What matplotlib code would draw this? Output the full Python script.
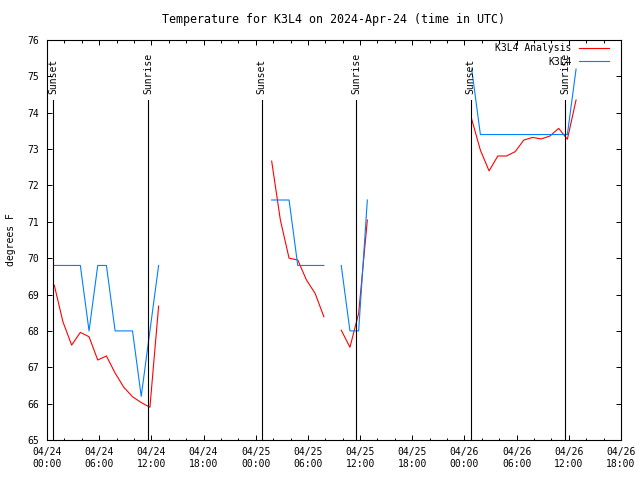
import matplotlib
matplotlib.use("Agg")
import matplotlib.pyplot as plt
import matplotlib.dates as mdates
import matplotlib.transforms as mtransforms
import pandas as pd

plt.rcParams['font.family'] = ['DejaVu Sans Mono']
plt.rcParams['font.size'] = 7

# hourly observations, split where data is missing
seg_starts = ['2024-04-24 00:50', '2024-04-25 01:50', '2024-04-25 09:50', '2024-04-26 00:50']

obs_segments = [
    [69.8, 69.8, 69.8, 69.8, 68.0, 69.8, 69.8, 68.0, 68.0, 68.0, 66.2, 68.0, 69.8],
    [71.6, 71.6, 71.6, 69.8, 69.8, 69.8, 69.8],
    [69.8, 68.0, 68.0, 71.6],
    [75.2, 73.4, 73.4, 73.4, 73.4, 73.4, 73.4, 73.4, 73.4, 73.4, 73.4, 73.4, 75.2],
]

analysis_segments = [
    [69.26, 68.25, 67.61, 67.96, 67.84, 67.2, 67.31, 66.84, 66.45, 66.19, 66.03, 65.9, 68.68],
    [72.67, 71.05, 70.0, 69.95, 69.4, 69.03, 68.39],
    [68.02, 67.55, 68.48, 71.05],
    [73.82, 72.97, 72.4, 72.81, 72.81, 72.93, 73.25, 73.32, 73.28, 73.36, 73.57, 73.27, 74.35],
]

sunset_times = ['2024-04-24 00:41', '2024-04-25 00:40', '2024-04-26 00:42']
sunrise_times = ['2024-04-24 11:37', '2024-04-25 11:34', '2024-04-26 11:37']

x_start = pd.Timestamp('2024-04-24 00:00')
x_end = pd.Timestamp('2024-04-26 18:00')

fig = plt.figure(figsize=(6.4, 4.8), dpi=100)
ax = fig.add_axes([47 / 640, 40 / 480, 574 / 640, 400 / 480])

for i, start in enumerate(seg_starts):
    times = pd.date_range(start, periods=len(obs_segments[i]), freq='h')
    ax.plot(times, analysis_segments[i], color='#ff0000', lw=0.8,
            label='K3L4 Analysis' if i == 0 else None)
    ax.plot(times, obs_segments[i], color='#0080ff', lw=0.8,
            label='K3L4' if i == 0 else None)

trans = mtransforms.blended_transform_factory(ax.transData, ax.transAxes)
for label, tlist in [('Sunset', sunset_times), ('Sunrise', sunrise_times)]:
    for t in tlist:
        t = pd.Timestamp(t)
        ax.axvline(t, ymin=0, ymax=0.85, color='black', lw=0.8)
        ax.text(t, 0.866, label, rotation=90, ha='center', va='bottom', transform=trans)

ax.set_xlim(x_start, x_end)
ax.set_ylim(65, 76)
ax.set_yticks(range(65, 77))
ax.xaxis.set_major_locator(mdates.HourLocator(byhour=[0, 6, 12, 18]))
ax.xaxis.set_minor_locator(mdates.HourLocator(byhour=range(0, 24, 2)))
ax.xaxis.set_major_formatter(mdates.DateFormatter('%m/%d\n%H:%M'))
ax.tick_params(which='both', direction='in', top=True, right=True)
ax.tick_params(which='major', length=3.5, width=0.7)
ax.tick_params(which='minor', length=1.8, width=0.7)
ax.tick_params(axis='y', pad=6)
ax.tick_params(axis='x', pad=5)
for sp in ax.spines.values():
    sp.set_linewidth(0.8)

ax.set_ylabel('degrees F', labelpad=8)
ax.set_title('Temperature for K3L4 on 2024-Apr-24 (time in UTC)', pad=12)

ax.legend(loc='upper right', bbox_to_anchor=(0.985, 1.0), frameon=False,
          markerfirst=False, handlelength=3.1, borderaxespad=0.2,
          borderpad=0.1, labelspacing=0.4, handletextpad=0.8)

fig.savefig('out.png', dpi=100)
